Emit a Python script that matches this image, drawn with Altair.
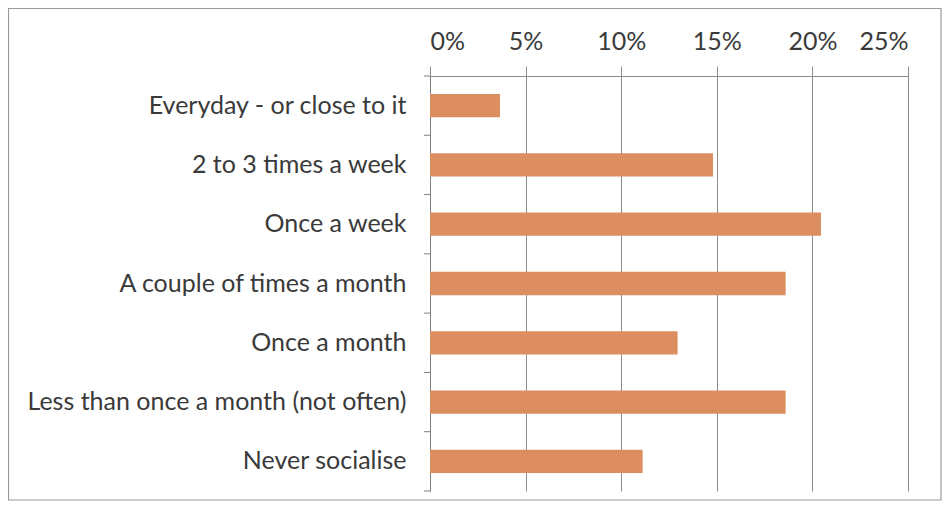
import altair as alt
import pandas as pd

categories = [
    "Everyday - or close to it",
    "2 to 3 times a week",
    "Once a week",
    "A couple of times a month",
    "Once a month",
    "Less than once a month (not often)",
    "Never socialise",
]
shares = [0.0366, 0.148, 0.2045, 0.186, 0.1295, 0.186, 0.1112]
x_ticks = [0, 0.05, 0.10, 0.15, 0.20, 0.25]

W, H = 478, 415
PAD_L, PAD_T, PAD_R, PAD_B = 422, 68, 34, 10
FONT = "Lato"
TEXT = "#3a3a3a"

df = pd.DataFrame({"category": categories, "share": shares})

y_enc = alt.Y(
    "category:N",
    sort=categories,
    scale=alt.Scale(paddingInner=0.607, paddingOuter=0.3035),
    axis=alt.Axis(
        title=None,
        ticks=False,
        domainColor="#7f7f7f",
        labelFont=FONT,
        labelFontSize=25,
        labelColor=TEXT,
        labelPadding=24,
        labelLimit=420,
    ),
)

bars = alt.Chart(df).mark_bar(color="#DC8E60").encode(
    x=alt.X(
        "share:Q",
        scale=alt.Scale(domain=[0, 0.25], nice=False, zero=True),
        axis=alt.Axis(
            orient="top",
            title=None,
            format=".0%",
            values=x_ticks,
            grid=True,
            gridColor="#8c8c8c",
            gridWidth=1,
            tickSize=10,
            tickColor="#8c8c8c",
            domainColor="#8c8c8c",
            labelFont=FONT,
            labelFontSize=25,
            labelColor=TEXT,
            labelPadding=12,
        ),
    ),
    y=y_enc,
)

ytick_layer = alt.Chart(df).mark_rule(color="#7f7f7f", strokeWidth=1, yOffset=-18).encode(
    y=alt.Y("category:N", sort=categories, bandPosition=0),
    x=alt.value(-6),
    x2=alt.value(0),
)

bottom_tick = alt.Chart(alt.Data(values=[{"a": 1}])).mark_rule(
    color="#7f7f7f", strokeWidth=1
).encode(x=alt.value(-6), x2=alt.value(0), y=alt.value(H))

border = alt.Chart(alt.Data(values=[{"a": 1}])).mark_rect(
    fill=None, stroke="#9a9a9a", strokeWidth=1.2
).encode(
    x=alt.value(-PAD_L + 0.5),
    x2=alt.value(W + PAD_R - 1),
    y=alt.value(-PAD_T + 0.5),
    y2=alt.value(H + PAD_B - 1),
)

chart = (
    alt.layer(border, bars, ytick_layer, bottom_tick)
    .properties(
        width=W,
        height=H,
        autosize=alt.AutoSizeParams(type="none"),
        padding={"left": PAD_L, "top": PAD_T, "right": PAD_R, "bottom": PAD_B},
        background="white",
    )
    .configure_view(stroke=None)
)

chart.save("out.html", embed_options={"renderer": "svg", "actions": False})
